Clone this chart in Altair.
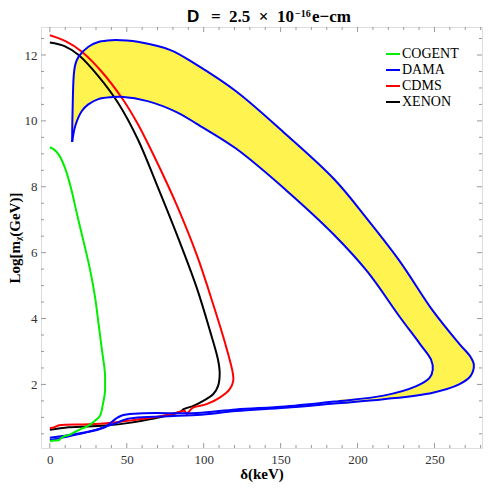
import altair as alt
import pandas as pd

# ---------------- data ----------------
COGENT_X = [0, 3, 6, 10, 13.4, 18, 23, 26.5, 29.4, 31.5, 33.6, 35.8, 35.9, 35.8, 34.7, 32.6, 29.4, 26, 23, 20.8, 16, 12.3, 9, 7, 6, 3, 0]
COGENT_Y = [9.2, 9.12, 8.96, 8.55, 8.02, 7.1, 6.13, 5.4, 4.64, 3.9, 3.14, 2.35, 2.05, 1.75, 1.45, 1.05, 0.9, 0.78, 0.7, 0.66, 0.55, 0.46, 0.42, 0.36, 0.31, 0.3, 0.28]

DAMA_OUTER_X = [14.5, 14.6, 14.8, 15.5, 16.5, 18.7, 25.1, 32, 40, 50, 57.1, 78.4, 95.5, 121, 153, 185, 206.3, 227.6, 248.9, 266, 273.4, 275.6, 273.4, 266, 248.9, 216.9, 185, 153, 121, 95.5, 50.7, 42.2, 25.1, 0]
DAMA_OUTER_Y = [9.36, 9.9, 10.36, 11.35, 11.7, 11.95, 12.25, 12.4, 12.45, 12.44, 12.4, 12.15, 11.7, 10.9, 9.61, 8.22, 7.02, 5.73, 4.24, 3.24, 2.84, 2.6, 2.25, 2.0, 1.75, 1.55, 1.42, 1.29, 1.19, 1.07, 0.96, 0.81, 0.56, 0.31]

DAMA_INNER_X = [14.5, 16.6, 20.8, 25, 31.5, 40, 46.4, 63.5, 82.7, 95.5, 121, 153, 185, 206.3, 227.6, 240.4, 247.8, 248.9, 246.8, 238.2, 216.9, 185, 153, 121, 95.5, 46.4, 35.8, 18.7, 0]
DAMA_INNER_Y = [9.36, 9.86, 10.3, 10.5, 10.66, 10.72, 10.73, 10.6, 10.26, 9.91, 9.16, 7.92, 6.53, 5.43, 4.04, 3.24, 2.75, 2.45, 2.2, 1.95, 1.66, 1.48, 1.33, 1.24, 1.13, 1.05, 0.7, 0.51, 0.38]

CDMS_X = [0, 10.2, 20.8, 33.6, 47.5, 57.1, 69.9, 82.7, 95.5, 106.1, 114.6, 118.9, 119.2, 116.8, 110.4, 101.9, 93.3, 90, 89.1, 87.5, 84.8, 76, 63.5, 50.7, 40, 25, 6, 3, 0]
CDMS_Y = [12.6, 12.42, 12.1, 11.5, 10.65, 9.91, 8.72, 7.42, 5.93, 4.44, 3.14, 2.35, 2.1, 1.85, 1.6, 1.4, 1.3, 1.15, 1.1, 1.2, 1.17, 1.07, 0.97, 0.9, 0.84, 0.79, 0.76, 0.7, 0.67]

XENON_X = [0, 9.5, 18.7, 31.5, 44.3, 57.1, 69.9, 82.7, 95.5, 104, 109.3, 110.4, 109.3, 106.1, 99.7, 93.3, 87, 84.8, 65.6, 52.8, 35.8, 12.3, 0]
XENON_Y = [12.38, 12.27, 12.0, 11.36, 10.55, 9.45, 8.02, 6.53, 4.93, 3.64, 2.75, 2.35, 1.95, 1.7, 1.5, 1.35, 1.25, 1.17, 0.95, 0.84, 0.75, 0.7, 0.62]

SERIES = ["COGENT", "DAMA", "CDMS", "XENON"]
COLORS = ["#00ee00", "#0000ff", "#ff0000", "#000000"]

X_MAJOR = [0, 50, 100, 150, 200, 250]
X_MINOR = [v for v in range(10, 281, 10) if v % 50 != 0]
Y_MAJOR = [2, 4, 6, 8, 10, 12]
Y_MINOR = [v / 2 for v in range(1, 26) if v % 4 != 0]

TITLE_PARTS = ["D", "=\u20022.5\u2002×\u200210", "−16", "e−cm"]
X_TITLE = "δ(keV)"
Y_TITLE = "Log[mᵪ(GeV)]"

# ---------------- tables ----------------
rows = []
def add(series, path, xs, ys):
    for i, (x, y) in enumerate(zip(xs, ys)):
        rows.append({"series": series, "path": path, "i": i, "x": x, "y": y})

add("XENON", "xenon", XENON_X, XENON_Y)
add("CDMS", "cdms", CDMS_X, CDMS_Y)
add("DAMA", "dama_outer", DAMA_OUTER_X, DAMA_OUTER_Y)
add("DAMA", "dama_inner", DAMA_INNER_X, DAMA_INNER_Y)
add("COGENT", "cogent", COGENT_X, COGENT_Y)
lines = pd.DataFrame(rows)

k_out = len(DAMA_OUTER_X) - 1 - DAMA_OUTER_X[::-1].index(185)
k_in = len(DAMA_INNER_X) - 1 - DAMA_INNER_X[::-1].index(185)
poly_x = DAMA_OUTER_X[:k_out + 1] + DAMA_INNER_X[:k_in + 1][::-1]
poly_y = DAMA_OUTER_Y[:k_out + 1] + DAMA_INNER_Y[:k_in + 1][::-1]
poly = pd.DataFrame({"x": poly_x, "y": poly_y, "i": list(range(len(poly_x)))})

W, H = 441, 421
PAD_L, PAD_T = 33, 19
SERIF = "Liberation Serif"
TICK = "#999999"
LABEL = "#333333"

xs = alt.Scale(domain=[-5.75, 280.9], nice=False, zero=False)
ys = alt.Scale(domain=[0.07, 12.85], nice=False, zero=False)
X_AX = alt.Axis(values=X_MAJOR, ticks=False, domain=False, grid=False,
                labelFont=SERIF, labelFontSize=13, labelColor=LABEL, labelPadding=5,
                title=X_TITLE, titleFont=SERIF, titleFontSize=15, titleFontWeight="bold",
                titleColor="black", titlePadding=0)
Y_AX = alt.Axis(values=Y_MAJOR, ticks=False, domain=False, grid=False,
                labelFont=SERIF, labelFontSize=13, labelColor=LABEL, labelPadding=4,
                title=Y_TITLE, titleFont=SERIF, titleFontSize=15, titleFontWeight="bold",
                titleColor="black", titlePadding=2)

def X(field):
    return alt.X(field, scale=xs, axis=X_AX)

def Y(field):
    return alt.Y(field, scale=ys, axis=Y_AX)

band = alt.Chart(poly).mark_line(
    fill="#fff350", strokeOpacity=0, interpolate="catmull-rom", clip=True
).encode(x=X("x:Q"), y=Y("y:Q"), order="i:Q")

curves = alt.Chart(lines).mark_line(
    strokeWidth=2, interpolate="catmull-rom", clip=True
).encode(
    x=X("x:Q"), y=Y("y:Q"),
    color=alt.Color("series:N", scale=alt.Scale(domain=SERIES, range=COLORS),
                    legend=alt.Legend(
                        orient="none", legendX=344, legendY=19, title=None,
                        symbolType="stroke", symbolSize=196, symbolStrokeWidth=2,
                        labelFont=SERIF, labelFontSize=14, labelColor="black",
                        rowPadding=1, labelOffset=1, padding=0)),
    detail="path:N",
    order="i:Q",
)

def xticks(vals, length):
    d = pd.DataFrame({"v": vals})
    b = alt.Chart(d).mark_rule(color=TICK, strokeWidth=1).encode(
        x=X("v:Q"), y=alt.value(H), y2=alt.value(H - length))
    t = alt.Chart(d).mark_rule(color=TICK, strokeWidth=1).encode(
        x=X("v:Q"), y=alt.value(0), y2=alt.value(length))
    return [b, t]

def yticks(vals, length):
    d = pd.DataFrame({"v": vals})
    l = alt.Chart(d).mark_rule(color=TICK, strokeWidth=1).encode(
        y=Y("v:Q"), x=alt.value(0), x2=alt.value(length))
    r = alt.Chart(d).mark_rule(color=TICK, strokeWidth=1).encode(
        y=Y("v:Q"), x=alt.value(W), x2=alt.value(W - length))
    return [l, r]

ticks = xticks(X_MAJOR, 5) + xticks(X_MINOR, 3) + yticks(Y_MAJOR, 5) + yticks(Y_MINOR, 3)

# title pieces (D, main, superscript, unit); positions relative to the plot's top-left
def tpart(text, font, size, align, px, py):
    return alt.Chart(pd.DataFrame({"t": [text]})).mark_text(
        font=font, fontSize=size, fontWeight="bold", color="black",
        align=align, baseline="alphabetic"
    ).encode(text="t:N", x=alt.value(px), y=alt.value(py))

title_layers = [
    tpart(TITLE_PARTS[0], "Liberation Sans", 17, "left", 146, -5),
    tpart(TITLE_PARTS[1], SERIF, 17, "right", 253, -5),
    tpart(TITLE_PARTS[2], SERIF, 10, "left", 254, -10),
    tpart(TITLE_PARTS[3], SERIF, 17, "left", 271, -5),
]

chart = alt.layer(band, *ticks, curves, *title_layers).properties(
    width=W, height=H,
    autosize=alt.AutoSizeParams(type="none"),
    padding={"left": PAD_L, "top": PAD_T, "right": 1, "bottom": 35},
).configure_view(stroke=TICK, strokeWidth=1).configure(background="white")

chart.save("out.html", embed_options={"renderer": "svg", "actions": False})
